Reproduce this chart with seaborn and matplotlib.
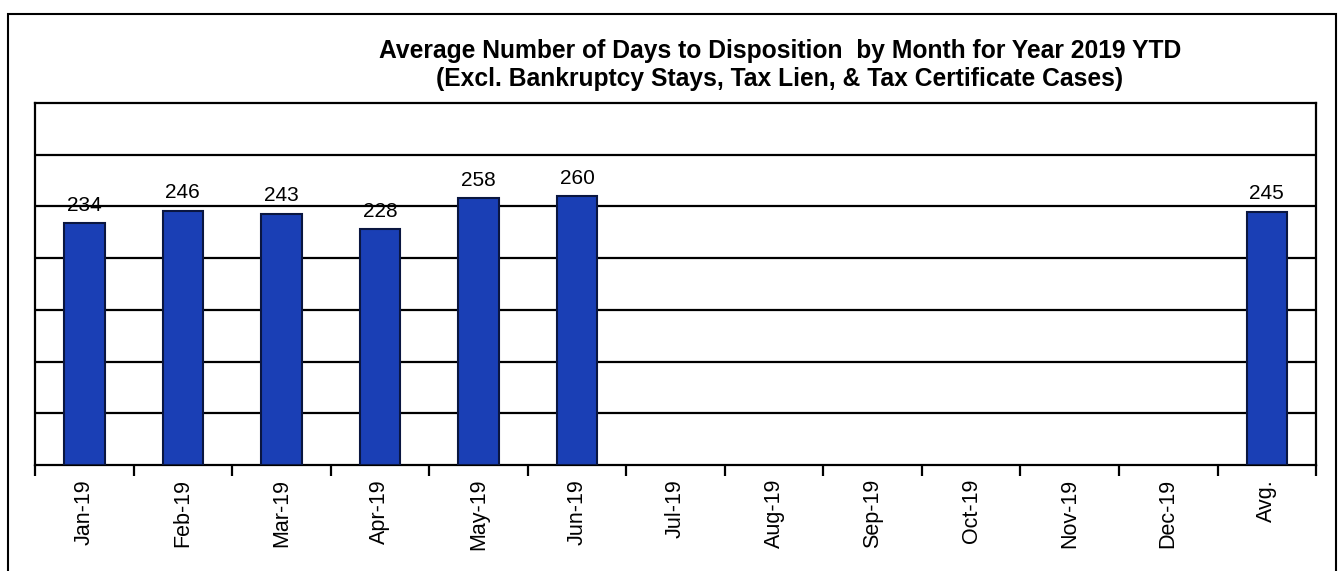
import numpy as np
import pandas as pd
import matplotlib
matplotlib.use("Agg")
import matplotlib.pyplot as plt
import matplotlib.patches as patches
import seaborn as sns

# ---- data ----
months = ['Jan-19', 'Feb-19', 'Mar-19', 'Apr-19', 'May-19', 'Jun-19', 'Jul-19',
          'Aug-19', 'Sep-19', 'Oct-19', 'Nov-19', 'Dec-19', 'Avg.']
bar_labels = ['Jan-19', 'Feb-19', 'Mar-19', 'Apr-19', 'May-19', 'Jun-19', 'Avg.']
days = [234, 246, 243, 228, 258, 260, 245]

df = pd.DataFrame({'Month': bar_labels, 'Days': days})

sns.set_style("white")
plt.rcParams['font.family'] = ['Liberation Sans', 'DejaVu Sans']
plt.rcParams['text.color'] = 'black'
plt.rcParams['xtick.color'] = 'black'

fig = plt.figure(figsize=(13.38, 5.71), dpi=100)
ax = fig.add_axes([0.0262, 0.1856, 0.9574, 0.634])

sns.barplot(x='Month', y='Days', data=df, order=months, color='#1a3fb5',
            width=0.41, edgecolor='#0a1640', linewidth=1.5, saturation=1,
            ax=ax, zorder=3)

ax.bar_label(ax.containers[0], fmt='%d', padding=6, fontsize=15, color='black')

# y axis: no labels, just the black grid
ax.set_ylim(0, 350)
ax.set_yticks(np.arange(50, 350, 50))
ax.set_yticklabels([])
ax.tick_params(axis='y', length=0)
ax.yaxis.grid(True, color='black', linewidth=1.6)
ax.set_axisbelow(True)

# x axis: labels at centers, ticks at category boundaries
ax.set_xlim(-0.5, len(months) - 0.5)
ax.set_xticks(range(len(months)))
ax.set_xticklabels(months, rotation=90, fontsize=15.5, color='black')
ax.tick_params(axis='x', which='major', length=0, pad=10)
ax.set_xticks(np.arange(-0.5, len(months), 1.0), minor=True)
ax.tick_params(axis='x', which='minor', bottom=True, length=8, width=1.6,
               color='black', direction='out')
ax.set_xlabel('')
ax.set_ylabel('')

for sp in ax.spines.values():
    sp.set_visible(True)
    sp.set_color('black')
    sp.set_linewidth(1.6)

fig.text(0.583, 0.886,
         'Average Number of Days to Disposition  by Month for Year 2019 YTD\n'
         '(Excl. Bankruptcy Stays, Tax Lien, & Tax Certificate Cases)',
         ha='center', va='center', fontsize=17.7, fontweight='bold',
         linespacing=1.25, color='black')

# outer frame around the whole chart
fig.patches.append(patches.Rectangle((8 / 1338, -0.05), 1328 / 1338, 1.05 - 14 / 571,
                                     transform=fig.transFigure, fill=False,
                                     edgecolor='black', linewidth=1.5))

fig.savefig('out.png', dpi=100)
